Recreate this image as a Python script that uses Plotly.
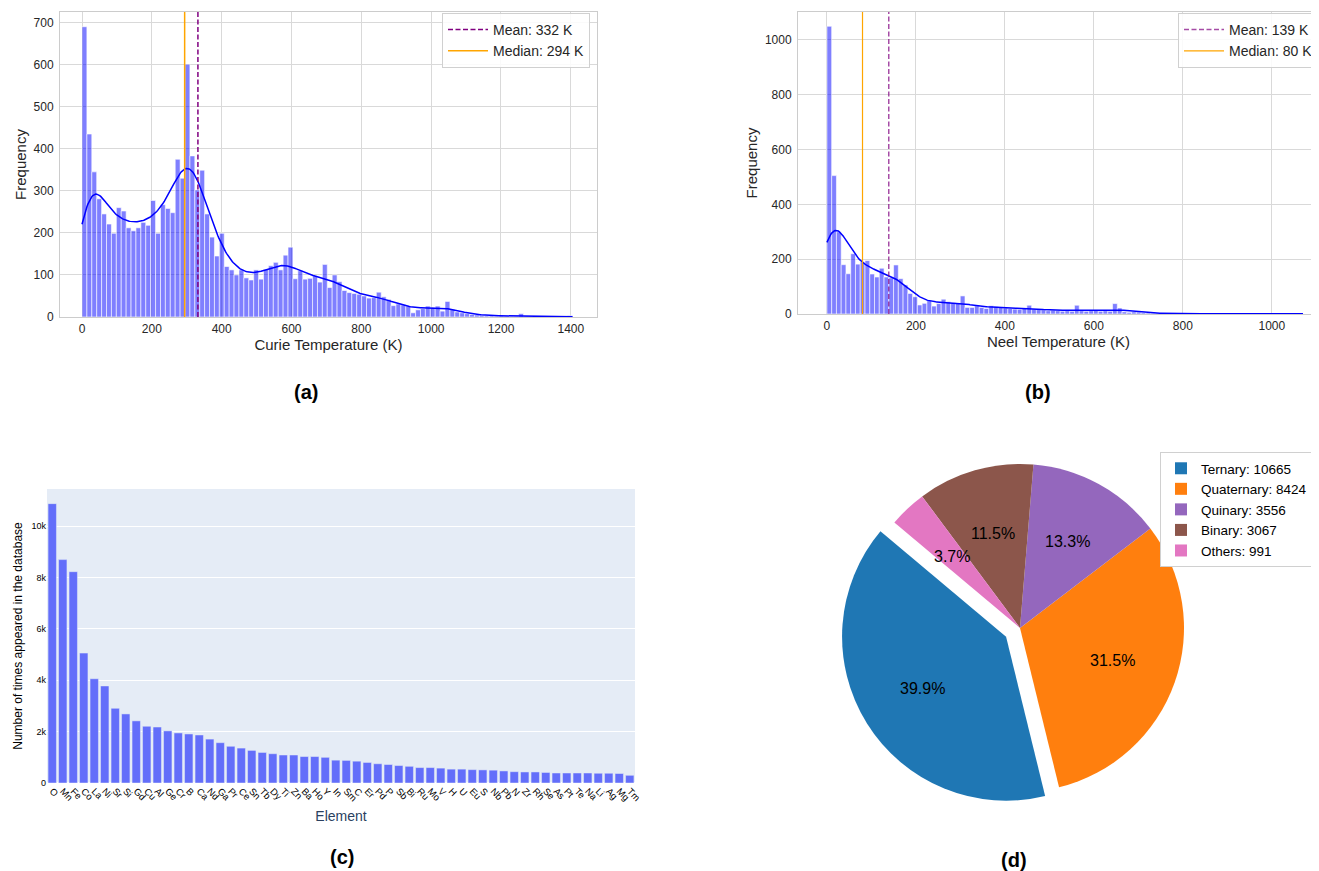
import numpy as np
import plotly.graph_objects as go

# page is drawn with the browser's default 8px body margin
OX, OY = 8, 8
W, H = 1319 - OX, 871 - OY

# ---------------- (a) Curie temperature histogram ----------------
curie_bin_width = 14.05
curie_counts = [690, 435, 345, 281, 245, 221, 199, 260, 252, 212,
                205, 212, 225, 218, 277, 199, 267, 258, 248, 375,
                330, 601, 383, 302, 349, 245, 190, 145, 199, 120,
                112, 100, 112, 93, 88, 112, 90, 113, 122, 130,
                112, 147, 166, 91, 110, 90, 92, 98, 83, 125,
                70, 100, 84, 63, 58, 56, 54, 50, 45, 46,
                59, 48, 42, 27, 31, 29, 26, 10, 17, 20,
                26, 23, 26, 14, 37, 18, 12, 10, 8, 6,
                5, 4, 3, 3, 2, 3, 2, 2, 2, 8,
                2, 1, 1, 1, 1, 0, 1, 0, 0, 3]
curie_mean = 332
curie_median = 294

# ---------------- (b) Neel temperature histogram ----------------
neel_bin_width = 10.7
neel_counts = [1050, 505, 300, 180, 147, 220, 182, 190, 195, 146,
               135, 167, 135, 132, 179, 129, 106, 75, 63, 33,
               39, 49, 29, 38, 54, 45, 41, 39, 66, 24,
               24, 30, 24, 20, 30, 27, 24, 22, 20, 18,
               17, 22, 32, 18, 16, 15, 12, 14, 12, 10,
               12, 10, 32, 12, 10, 12, 14, 10, 12, 10,
               38, 22, 8, 6, 8, 7, 5, 4, 3, 3,
               2, 2, 2, 1, 1, 1, 1, 1, 1, 1,
               1, 1, 1, 1, 1, 1, 1, 1, 1, 1,
               1, 1, 1, 1, 1, 1, 1, 1, 1, 1]
neel_mean = 139
neel_median = 80

# ---------------- (c) element counts ----------------
elements = ["O", "Mn", "Fe", "Co", "La", "Ni", "Sr", "Si", "Gd", "Cu",
            "Al", "Ge", "Cr", "B", "Ca", "Nd", "Ga", "Pr", "Ce", "Sn",
            "Tb", "Dy", "Ti", "Zn", "Ba", "Ho", "Y", "In", "Sm", "C",
            "Er", "Pd", "P", "Sb", "Bi", "Ru", "Mo", "V", "H", "U",
            "Eu", "S", "Nb", "Pb", "N", "Zr", "Rh", "Se", "As", "Pt",
            "Te", "Na", "Li", "Ag", "Mg", "Tm"]
element_counts = [10880, 8700, 8230, 5060, 4060, 3780, 2910, 2690, 2420, 2210,
                  2180, 2030, 1950, 1910, 1870, 1710, 1570, 1430, 1360, 1270,
                  1190, 1140, 1090, 1090, 1030, 1030, 1000, 890, 880, 850,
                  800, 750, 720, 680, 650, 600, 600, 580, 540, 540,
                  520, 510, 500, 470, 440, 430, 430, 410, 390, 390,
                  390, 390, 380, 380, 370, 300]

# ---------------- (d) composition classes ----------------
classes = ["Ternary", "Quaternary", "Quinary", "Binary", "Others"]
class_counts = [10665, 8424, 3556, 3067, 991]
class_colors = ["#1f77b4", "#ff7f0e", "#9467bd", "#8c564b", "#e377c2"]
class_explode = [0.1, 0, 0, 0, 0]
pie_start_angle = 140  # degrees, counter-clockwise from 3 o'clock
pct_distance = 0.6


def kde_from_hist(counts, width, npts=500):
    c = np.array(counts, float)
    centers = np.arange(len(c)) * width + width / 2
    n = c.sum()
    mu = (c * centers).sum() / n
    sd = np.sqrt((c * (centers - mu) ** 2).sum() / (n - 1))
    bw = sd * n ** (-0.2)
    xs = np.linspace(0, len(c) * width, npts)
    dens = (c[None, :] * np.exp(-0.5 * ((xs[:, None] - centers[None, :]) / bw) ** 2)).sum(1)
    dens = dens / (n * bw * np.sqrt(2 * np.pi))
    return centers, xs, dens * n * width


def px(x):
    return (x - OX) / W


def py(y):
    return 1 - (y - OY) / H


def xd(a, b):
    return [px(a), min(1.0, px(b))]


def yd(top, bottom):
    return [py(bottom), min(1.0, py(top))]


FONT = "Liberation Sans, Arial, Helvetica, sans-serif"
GRID = "#d9d9d9"
SPINE = "#cccccc"
TXT = "#262626"

fig = go.Figure()

# (a)
ca, kxa, kya = kde_from_hist(curie_counts, curie_bin_width)
A_YMAX = 725
fig.add_trace(go.Bar(x=ca, y=curie_counts, width=curie_bin_width,
                     marker=dict(color="rgba(0,0,255,0.5)", line=dict(color="white", width=0.6)),
                     showlegend=False, xaxis="x", yaxis="y"))
fig.add_trace(go.Scatter(x=kxa, y=kya, mode="lines", line=dict(color="blue", width=1.5),
                         showlegend=False, xaxis="x", yaxis="y"))
fig.add_trace(go.Scatter(x=[curie_mean, curie_mean], y=[0, A_YMAX], mode="lines",
                         line=dict(color="purple", width=1.5, dash="5px,2.5px"),
                         name=f"Mean: {curie_mean} K", legend="legend", xaxis="x", yaxis="y"))
fig.add_trace(go.Scatter(x=[curie_median, curie_median], y=[0, A_YMAX], mode="lines",
                         line=dict(color="orange", width=1.5),
                         name=f"Median: {curie_median} K", legend="legend", xaxis="x", yaxis="y"))

# (b)
cb, kxb, kyb = kde_from_hist(neel_counts, neel_bin_width)
B_YMAX = 1102
fig.add_trace(go.Bar(x=cb, y=neel_counts, width=neel_bin_width,
                     marker=dict(color="rgba(0,0,255,0.5)", line=dict(color="white", width=0.6)),
                     showlegend=False, xaxis="x2", yaxis="y2"))
fig.add_trace(go.Scatter(x=kxb, y=kyb, mode="lines", line=dict(color="blue", width=1.5),
                         showlegend=False, xaxis="x2", yaxis="y2"))
fig.add_trace(go.Scatter(x=[neel_mean, neel_mean], y=[0, B_YMAX], mode="lines",
                         line=dict(color="rgba(128,0,128,0.7)", width=1.5, dash="5px,2.5px"),
                         name=f"Mean: {neel_mean} K", legend="legend2", xaxis="x2", yaxis="y2"))
fig.add_trace(go.Scatter(x=[neel_median, neel_median], y=[0, B_YMAX], mode="lines",
                         line=dict(color="orange", width=1.2),
                         name=f"Median: {neel_median} K", legend="legend2", xaxis="x2", yaxis="y2"))

# (c)
fig.add_trace(go.Bar(x=elements, y=element_counts,
                     marker=dict(color="#636efa", line=dict(color="#E5ECF6", width=0.5)),
                     showlegend=False, xaxis="x3", yaxis="y3"))

# (d) pie
PIE_CX, PIE_CY, PIE_R = 1020, 628, 164
half = PIE_R * (1 + max(class_explode))
total = sum(class_counts)
shares = [v / total for v in class_counts]
pie_rotation = (90 - pie_start_angle - shares[0] * 360) % 360
fig.add_trace(go.Pie(labels=[f"{c}: {v}" for c, v in zip(classes, class_counts)], values=class_counts,
                     marker=dict(colors=class_colors), sort=False, direction="counterclockwise",
                     rotation=pie_rotation, pull=class_explode, textinfo="none",
                     domain=dict(x=xd(PIE_CX - half, PIE_CX + half), y=yd(PIE_CY - half, PIE_CY + half)),
                     legend="legend3", hoverinfo="label+percent"))

# percentage labels placed like matplotlib's autopct (pctdistance of the radius)
pct_annotations = []
ang = pie_start_angle
for s, e in zip(shares, class_explode):
    mid = np.radians(ang + s * 180)
    rr = PIE_R * (pct_distance + e)
    lx = PIE_CX + rr * np.cos(mid)
    ly = PIE_CY - rr * np.sin(mid)
    pct_annotations.append(dict(text=f"{s * 100:.1f}%", x=px(lx), y=py(ly), xref="paper", yref="paper",
                                xanchor="center", yanchor="middle",
                                showarrow=False, font=dict(size=16, color="black", family=FONT)))
    ang += s * 360

hist_axis = dict(showgrid=True, gridcolor=GRID, gridwidth=1, showline=True, mirror=True,
                 linecolor=SPINE, linewidth=1, zeroline=False, automargin=False,
                 tickfont=dict(size=12, color=TXT, family=FONT), ticks="outside",
                 tickcolor="rgba(0,0,0,0)")

legend_style = dict(bgcolor="rgba(255,255,255,0.85)", bordercolor="#d0d0d0", borderwidth=1,
                    font=dict(size=14, color=TXT, family=FONT), xanchor="right", yanchor="top",
                    itemwidth=40, tracegroupgap=0)

panel_labels = [
    dict(text="<b>(a)</b>", x=px(306), y=py(392)),
    dict(text="<b>(b)</b>", x=px(1038), y=py(392)),
    dict(text="<b>(c)</b>", x=px(342), y=py(857)),
    dict(text="<b>(d)</b>", x=px(1014), y=py(860)),
]
for a in panel_labels:
    a.update(xref="paper", yref="paper", xanchor="center", yanchor="middle", showarrow=False,
             font=dict(size=20, color="black", family=FONT))

fig.update_layout(
    width=W, height=H, margin=dict(l=0, r=0, t=0, b=0, autoexpand=False),
    paper_bgcolor="white", plot_bgcolor="white",
    font=dict(family=FONT),
    bargap=0.2,
    xaxis=dict(domain=xd(60, 597), anchor="y", range=[-63, 1475], tickvals=[0, 200, 400, 600, 800, 1000, 1200, 1400],
               ticklen=1,
               title=dict(text="Curie Temperature (K)", font=dict(size=15, color=TXT), standoff=0), **hist_axis),
    yaxis=dict(domain=yd(12, 317), anchor="x", range=[0, A_YMAX], tickvals=[0, 100, 200, 300, 400, 500, 600, 700],
               ticklen=3,
               title=dict(text="Frequency", font=dict(size=15, color=TXT), standoff=3), **hist_axis),
    xaxis2=dict(domain=xd(798, 1319), anchor="y2", range=[-65, 1106], tickvals=[0, 200, 400, 600, 800, 1000],
                ticklen=1,
                title=dict(text="Neel Temperature (K)", font=dict(size=15, color=TXT), standoff=0), **hist_axis),
    yaxis2=dict(domain=yd(12, 314), anchor="x2", range=[0, B_YMAX], tickvals=[0, 200, 400, 600, 800, 1000],
                ticklen=3,
                title=dict(text="Frequency", font=dict(size=15, color=TXT), standoff=3), **hist_axis),
    xaxis3=dict(domain=xd(47, 635), anchor="y3", showgrid=False, zeroline=False, showline=False,
                automargin=False, tickmode="linear", dtick=1,
                tickangle=45, tickfont=dict(size=9.5, color="black"),
                title=dict(text="Element", font=dict(size=14, color="#2a3f5f"), standoff=8)),
    yaxis3=dict(domain=yd(489, 783), anchor="x3", range=[0, 11450], showgrid=True, gridcolor="white",
                zeroline=True, zerolinecolor="white", zerolinewidth=2, showline=False, automargin=False,
                tickvals=[0, 2000, 4000, 6000, 8000, 10000], ticktext=["0", "2k", "4k", "6k", "8k", "10k"],
                tickfont=dict(size=9, color="black"),
                title=dict(text="Number of times appeared in the database", font=dict(size=12, color="black"),
                           standoff=6)),
    legend=dict(x=px(590), y=py(13), **legend_style),
    legend2=dict(x=1.0, y=py(13), **legend_style),
    legend3=dict(x=px(1160), y=py(452), xanchor="left", yanchor="top",
                 bgcolor="white", bordercolor="#d0d0d0", borderwidth=1,
                 font=dict(size=13.5, color="black", family=FONT)),
    shapes=[dict(type="rect", xref="x3 domain", yref="y3 domain", x0=0, x1=1, y0=0, y1=1,
                 fillcolor="#E5ECF6", line=dict(width=0), layer="below")],
    annotations=pct_annotations + panel_labels,
)

fig.write_html("out.html")
